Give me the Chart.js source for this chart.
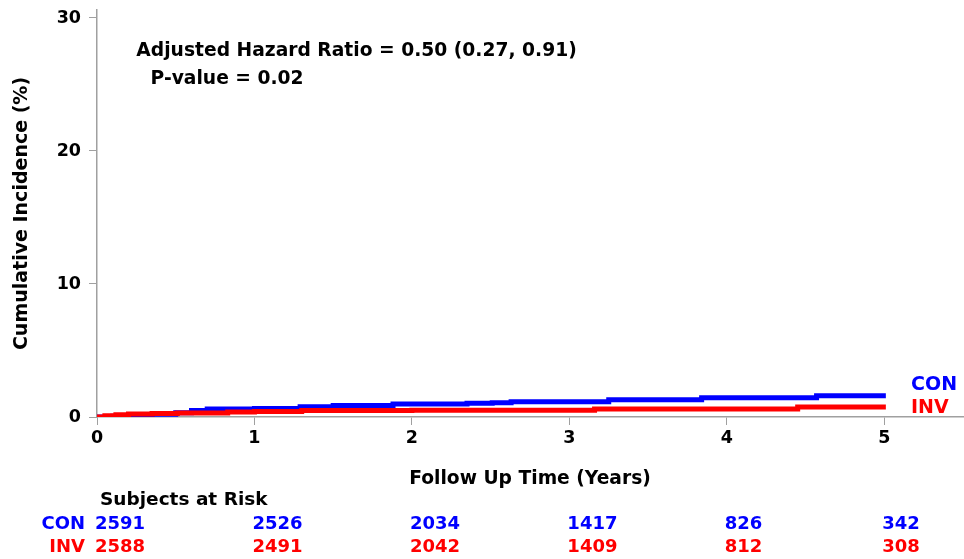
<!DOCTYPE html>
<html>
<head>
<meta charset="utf-8">
<script src="https://cdn.jsdelivr.net/npm/chart.js@4.4.1/dist/chart.umd.min.js"></script>
<style>
  body { margin: 0; background: #fff; }
  #wrap { width: 964px; height: 559px; }
</style>
</head>
<body>
<div id="wrap"><canvas id="chart1" width="964" height="559"></canvas></div>
<script>
//------------------------------------------- Data -------------------------------------------//
// step curves: [years, cumulative incidence %]
const con_times  = [0, 0.10, 0.22, 0.35, 0.50, 0.60, 0.70, 1.00, 1.29, 1.50, 1.88, 2.35, 2.51, 2.63, 3.25, 3.84, 4.57, 5.01];
const con_values = [0, 0.05, 0.10, 0.20, 0.32, 0.48, 0.60, 0.64, 0.78, 0.87, 0.98, 1.03, 1.08, 1.15, 1.30, 1.44, 1.60, 1.60];
const inv_times  = [0, 0.05, 0.12, 0.20, 0.35, 0.51, 0.83, 1.00, 1.30, 2.00, 3.16, 4.45, 5.01];
const inv_values = [0, 0.10, 0.16, 0.22, 0.26, 0.31, 0.38, 0.41, 0.48, 0.50, 0.60, 0.76, 0.76];

const risk_times = [0, 1, 2, 3, 4, 5];
const con_risk = [2591, 2526, 2034, 1417, 826, 342];
const inv_risk = [2588, 2491, 2042, 1409, 812, 308];

const x_ticks = [0, 1, 2, 3, 4, 5];
const y_ticks = [0, 10, 20, 30];

const hr_text = 'Adjusted Hazard Ratio = 0.50 (0.27, 0.91)';
const p_text = 'P-value = 0.02';

//------------------------------------------- Settings -------------------------------------------//
const blue = '#0000ff';
const red = '#ff0000';
const axis_grey = '#a0a0a0';
const font_family = '"DejaVu Sans", sans-serif';

function toPoints(xs, ys) {
    return xs.map((x, i) => ({x: x, y: ys[i]}));
}

// text, risk table and end labels
const extraText = {
    id: 'extraText',
    afterDraw(chart) {
        const ctx = chart.ctx;
        const xs = chart.scales.x;
        const ys = chart.scales.y;
        ctx.save();
        ctx.font = 'bold 18.7px ' + font_family;
        ctx.textBaseline = 'middle';
        ctx.fillStyle = '#000';
        ctx.textAlign = 'left';
        ctx.fillText(hr_text, xs.getPixelForValue(0.25), ys.getPixelForValue(27.5));
        ctx.fillText(p_text, xs.getPixelForValue(0.34), ys.getPixelForValue(25.4));

        // end labels
        ctx.font = 'bold 19px ' + font_family;
        ctx.fillStyle = blue;
        ctx.fillText('CON', xs.getPixelForValue(5.17), ys.getPixelForValue(2.4));
        ctx.fillStyle = red;
        ctx.fillText('INV', xs.getPixelForValue(5.17), ys.getPixelForValue(0.7));

        // subjects at risk
        ctx.font = 'bold 18.5px ' + font_family;
        ctx.fillStyle = '#000';
        ctx.fillText('Subjects at Risk', 100, 500);
        ctx.font = 'bold 18px ' + font_family;
        ctx.textAlign = 'right';
        ctx.fillStyle = blue;
        ctx.fillText('CON', 85, 524);
        ctx.fillStyle = red;
        ctx.fillText('INV', 85, 547);
        ctx.textAlign = 'left';
        risk_times.forEach((t, i) => {
            const px = xs.getPixelForValue(t) - 2;
            ctx.fillStyle = blue;
            ctx.fillText(String(con_risk[i]), px, 524);
            ctx.fillStyle = red;
            ctx.fillText(String(inv_risk[i]), px, 547);
        });
        ctx.restore();
    }
};

//------------------------------------------- Chart -------------------------------------------//
var ctx = document.getElementById('chart1');
var chart1 = new Chart(ctx, {
    type: 'scatter',
    data: {
        datasets: [{
            label: 'CON',
            data: toPoints(con_times, con_values),
            showLine: true,
            stepped: 'before',
            borderColor: blue,
            borderWidth: 5,
            pointRadius: 0,
            order: 1
        }, {
            label: 'INV',
            data: toPoints(inv_times, inv_values),
            showLine: true,
            stepped: 'before',
            borderColor: red,
            borderWidth: 5,
            pointRadius: 0,
            order: 0
        }]
    },
    options: {
        responsive: false,
        animation: false,
        layout: {
            padding: {top: 10, right: 1, bottom: 67, left: 0}
        },
        plugins: {
            legend: {display: false},
            tooltip: {enabled: false}
        },
        scales: {
            x: {
                type: 'linear',
                min: 0,
                max: 5.5,
                afterFit: function(scale) {
                    scale.height = 75;
                    scale.paddingLeft = 0;
                    scale.paddingRight = 0;
                },
                afterBuildTicks: function(scale) { scale.ticks = x_ticks.map(v => ({value: v})); },
                grid: {drawOnChartArea: false, drawTicks: true, tickLength: 8, color: axis_grey},
                border: {display: true, color: axis_grey, width: 1.5},
                ticks: {
                    color: '#000',
                    padding: 3,
                    font: {family: font_family, size: 17.5, weight: 'bold'}
                },
                title: {
                    display: true,
                    text: 'Follow Up Time (Years)',
                    color: '#000',
                    padding: {top: 0, bottom: 2},
                    font: {family: font_family, size: 18.7, weight: 'bold'}
                }
            },
            y: {
                min: 0,
                max: 30.6,
                afterFit: function(scale) {
                    scale.width = 97;
                    scale.paddingTop = 0;
                    scale.paddingBottom = 0;
                },
                afterBuildTicks: function(scale) { scale.ticks = y_ticks.map(v => ({value: v})); },
                grid: {drawOnChartArea: false, drawTicks: true, tickLength: 8, color: axis_grey},
                border: {display: true, color: axis_grey, width: 1.5},
                ticks: {
                    color: '#000',
                    padding: 8,
                    font: {family: font_family, size: 17.5, weight: 'bold'}
                },
                title: {
                    display: true,
                    text: 'Cumulative Incidence (%)',
                    color: '#000',
                    padding: {top: 11, bottom: 0},
                    font: {family: font_family, size: 19, weight: 'bold'}
                }
            }
        }
    },
    plugins: [extraText]
});
</script>
</body>
</html>
